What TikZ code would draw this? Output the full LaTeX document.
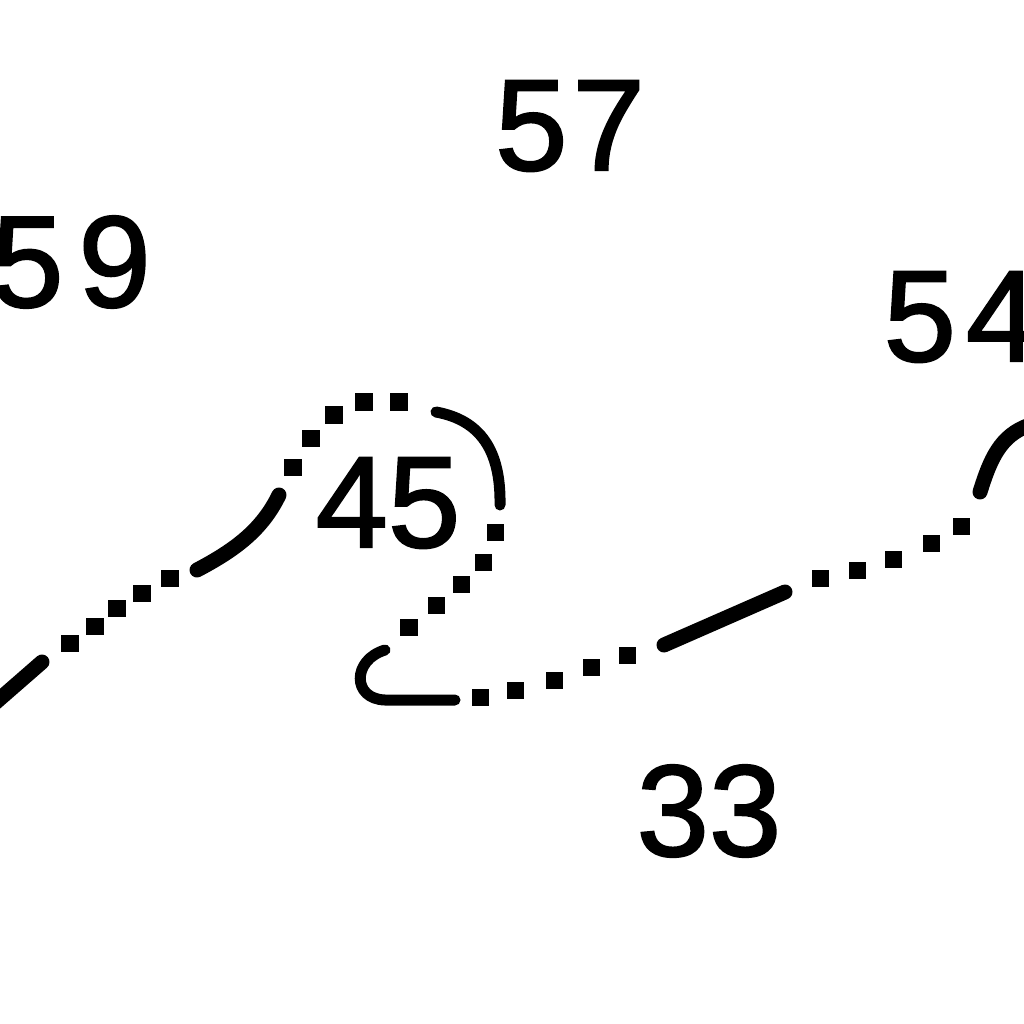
\documentclass[tikz,border=0pt]{standalone}
\usepackage{fontspec}
\setmainfont{Liberation Sans}
\newfontfamily\grasfont[FakeBold=1.6]{Liberation Sans}
\begin{document}
\begin{tikzpicture}[x=0.01cm,y=-0.01cm]
\tikzset{valeur/.style={font=\grasfont\fontsize{37}{37}\selectfont, inner sep=0pt}}
\tikzset{trait/.style={line width=0.15cm, line cap=round}}
\tikzset{fin/.style={line width=0.11cm, line cap=round}}
\tikzset{point/.style={fill=black, minimum size=0.17cm, inner sep=0pt}}
\useasboundingbox (0,0) rectangle (1024,1024);
\clip (0,0) rectangle (1024,1024);
\node[valeur] (V57) at (570,126) {5\hspace{0.05cm}7};
\node[valeur] (V59) at (71,262) {5\hspace{0.15cm}9};
\node[valeur] (V54) at (961,317) {5\hspace{0.1cm}4};
\node[valeur] (V45) at (388,503) {45};
\node[valeur] (V33) at (709,811) {33};
\draw[trait] (-5,703) -- (42,662);
\draw[trait] (197,570) .. controls (235,550) and (262,530) .. (279,495);
\draw[fin] (436,412) .. controls (480,420) and (501,450) .. (500,505);
\draw[fin] (385,650) .. controls (352,660) and (352,699) .. (385,700) -- (455,700);
\draw[trait] (664,645) -- (785,592);
\draw[trait] (980,492) .. controls (990,460) and (1000,435) .. (1030,425);
\foreach \x/\y in {70/643, 95/626, 117/608, 142/593, 170/578, 293/467, 311/438, 334/415, 364/402, 399/402, 495/532, 483/562, 461/584, 436/605, 409/627, 480/697, 515/690, 554/680, 591/667, 627/655, 820/578, 857/570, 893/559, 931/543, 961/526}
  \node[point] (P\x) at (\x,\y) {};
\end{tikzpicture}
\end{document}
